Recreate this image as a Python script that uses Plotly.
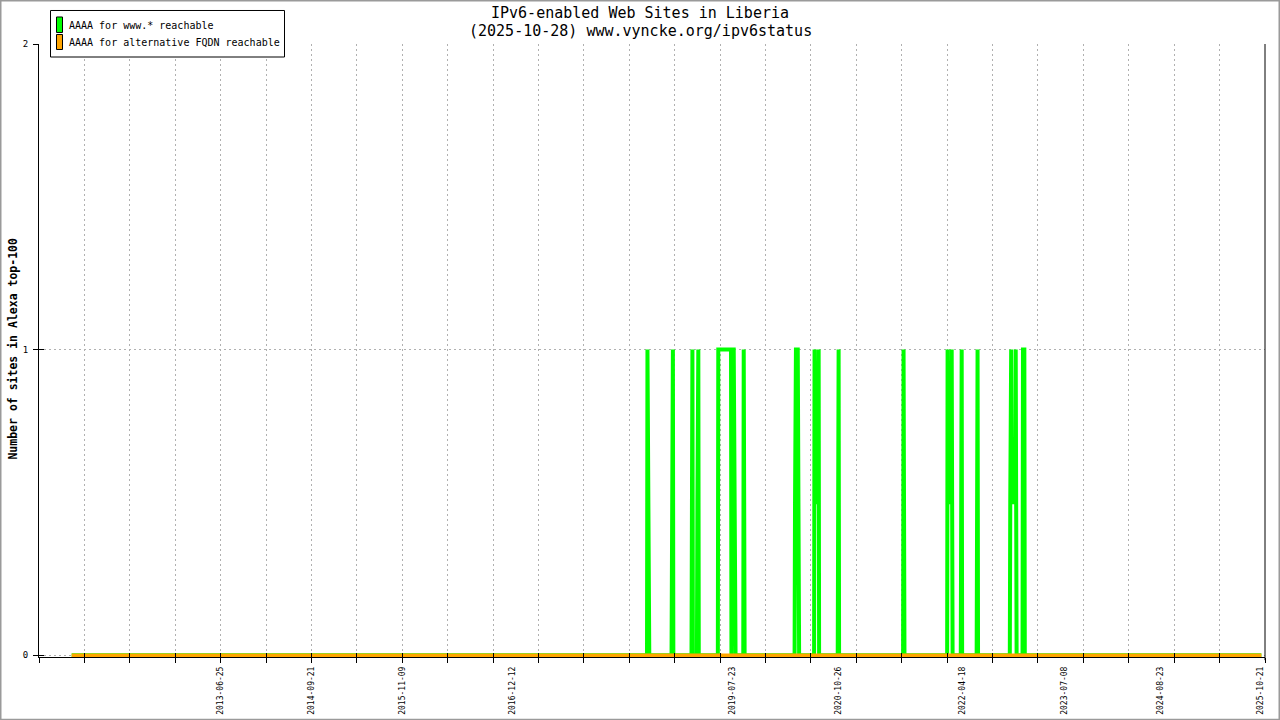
import plotly.graph_objects as go

# x = measurement index (one tick every 100 samples), y = number of sites
www_x = [72,
         1339, 1340, 1341, 1343, 1344,
         1393, 1394, 1395, 1396, 1397,
         1437, 1438, 1439, 1440,
         1449, 1450, 1452, 1453,
         1495, 1496, 1524, 1525, 1526, 1530, 1531, 1533, 1534,
         1551, 1552, 1553, 1554,
         1664, 1665, 1667, 1671, 1672, 1673, 1674,
         1707, 1708, 1709, 1716, 1717, 1718,
         1759, 1760, 1761, 1762,
         1903, 1904, 1905, 1906,
         2000, 2001, 2002, 2009, 2010, 2011, 2012,
         2030, 2031, 2032, 2033,
         2065, 2066, 2067, 2068,
         2138, 2139, 2141, 2142, 2150, 2151, 2152, 2153,
         2166, 2167, 2170, 2171,
         2692]
www_y = [0,
         0, 1, 0.5, 0.5, 0,
         0, 0.5, 0.5, 1, 0,
         0, 0.5, 1, 0,
         0, 0.5, 1, 0,
         0, 1, 1, 0, 1, 1, 0.5, 0.5, 0,
         0, 1, 0.5, 0,
         0, 0.5, 1, 1, 0.5, 0.5, 0,
         0, 1, 0.5, 0.5, 1, 0,
         0, 0.5, 1, 0,
         0, 1, 0.5, 0,
         0, 1, 0.5, 0.5, 1, 0.5, 0,
         0, 0.5, 1, 0,
         0, 0.5, 1, 0,
         0, 0.5, 1, 0.5, 0.5, 1, 0.5, 0,
         0, 1, 1, 0,
         0]

alt_x = [72, 2692]
alt_y = [0, 0]

label_pos = [400, 600, 800, 1042, 1526, 1760, 2034, 2259, 2470, 2690]
label_text = ["2013-06-25", "2014-09-21", "2015-11-09", "2016-12-12", "2019-07-23",
              "2020-10-26", "2022-04-18", "2023-07-08", "2024-08-23", "2025-10-21"]

MONO = "DejaVu Sans Mono"
GREEN = "#00ff00"
ORANGE = "#ffa500"
GRID = "#b0b0b0"

# plot area in pixels (y range is pushed a hair below 0 so the
# zero line is not clipped in half)
Y0 = -0.006
L, R, T = 39, 1265, 44
ZERO = 655
B = ZERO + (-Y0) * (ZERO - T) / 2


def px(x):
    return (x - L) / (R - L)


def py(y):
    return (B - y) / (B - T)


fig = go.Figure()
fig.add_trace(go.Scatter(x=www_x, y=www_y, mode="lines",
                         line=dict(color=GREEN, width=4), showlegend=False))
fig.add_trace(go.Scatter(x=alt_x, y=alt_y, mode="lines",
                         line=dict(color=ORANGE, width=3.5), showlegend=False))

fig.update_layout(
    width=1280, height=720,
    margin=dict(l=L, r=1280 - R, t=T, b=720 - B, autoexpand=False),
    paper_bgcolor="white", plot_bgcolor="white",
    font=dict(family=MONO, color="black"),
    showlegend=False,
    xaxis=dict(range=[0, 2700], tickmode="linear", tick0=0, dtick=100,
               ticks="outside", ticklen=5, tickcolor="black", tickwidth=1,
               showticklabels=False, showgrid=True, gridcolor=GRID,
               griddash="2px,3px", gridwidth=1, zeroline=False,
               showline=True, linecolor="black", linewidth=1,
               layer="below traces", automargin=False),
    xaxis2=dict(overlaying="x", anchor="y", side="bottom", range=[0, 2700],
                tickmode="array", tickvals=label_pos, ticktext=label_text,
                tickangle=-90, ticks="", ticklabelstandoff=7,
                tickfont=dict(family=MONO, size=8), showgrid=False,
                zeroline=False, showline=False, automargin=False),
    xaxis3=dict(overlaying="x", anchor="y", side="bottom", range=[0, 2700],
                tickmode="linear", tick0=0, dtick=100, ticks="inside",
                ticklen=4, tickcolor="black", showticklabels=False,
                showgrid=False, zeroline=False, showline=False,
                automargin=False),
    yaxis=dict(range=[Y0, 2], tickmode="array", tickvals=[0, 1, 2],
               ticks="outside", ticklen=5, tickcolor="black",
               tickfont=dict(family=MONO, size=9), ticklabelstandoff=3,
               showgrid=True, gridcolor=GRID, griddash="2px,3px",
               zeroline=False, showline=True, linecolor="black", linewidth=1,
               automargin=False),
    yaxis2=dict(overlaying="y", anchor="x", side="left", range=[Y0, 2],
                tickmode="array", tickvals=[0, 1, 2], ticks="inside",
                ticklen=5, tickcolor="black", showticklabels=False,
                showgrid=False, zeroline=False, showline=False,
                automargin=False),
)

# dummy traces to activate the overlay axes
fig.add_trace(go.Scatter(x=[0], y=[0], xaxis="x2", mode="none", showlegend=False,
                         hoverinfo="skip"))
fig.add_trace(go.Scatter(x=[0], y=[0], xaxis="x3", yaxis="y2", mode="none",
                         showlegend=False, hoverinfo="skip"))

shapes = [
    # right border
    dict(type="line", xref="paper", yref="paper", x0=1, x1=1, y0=py(660),
         y1=py(44), line=dict(color="black", width=1)),
    # image frame
    dict(type="rect", xref="paper", yref="paper", x0=px(0.75), x1=px(1279.25),
         y0=py(719.25), y1=py(0.75), line=dict(color="#9a9a9a", width=1.5)),
    # legend box
    dict(type="rect", xref="paper", yref="paper", x0=px(50.5), x1=px(284.5),
         y0=py(57), y1=py(10.5), line=dict(color="black", width=1),
         fillcolor="white"),
    dict(type="rect", xref="paper", yref="paper", x0=px(56.5), x1=px(62.5),
         y0=py(32.5), y1=py(17), line=dict(color="black", width=1),
         fillcolor=GREEN),
    dict(type="rect", xref="paper", yref="paper", x0=px(56.5), x1=px(62.5),
         y0=py(49.5), y1=py(34.5), line=dict(color="black", width=1),
         fillcolor=ORANGE),
]

annotations = [
    dict(text="IPv6-enabled Web Sites in Liberia", x=px(640), y=py(13.5),
         font=dict(size=15)),
    dict(text="(2025-10-28) www.vyncke.org/ipv6status", x=px(640), y=py(31.5),
         font=dict(size=15)),
    dict(text="<b>Number of sites in Alexa top-100</b>", x=px(13.5), y=py(349),
         textangle=-90, font=dict(size=11.5)),
    dict(text="AAAA for www.* reachable", x=px(67), y=py(25.5), xanchor="left",
         font=dict(size=10)),
    dict(text="AAAA for alternative FQDN reachable", x=px(67), y=py(42.5),
         xanchor="left", font=dict(size=10)),
]
for a in annotations:
    a.setdefault("xanchor", "center")
    a.update(xref="paper", yref="paper", yanchor="middle", showarrow=False)

fig.update_layout(shapes=shapes, annotations=annotations)

# the page body has a default 8px margin; drop it so the chart sits at 0,0
fig.write_html("out.html", config={"displayModeBar": False},
               post_script="document.body.style.margin='0';")
